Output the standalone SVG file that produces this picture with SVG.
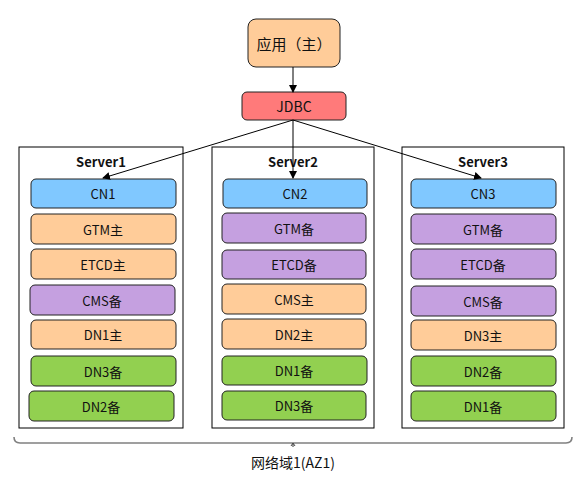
<svg xmlns="http://www.w3.org/2000/svg" width="585" height="484" viewBox="0 0 585 484">
<defs>
<marker id="ah" markerWidth="8" markerHeight="8" refX="7" refY="4" orient="auto" markerUnits="userSpaceOnUse">
<path d="M0,0 L8,4 L0,8 Z" fill="#000"/>
</marker>
<style>
text{font-family:"Noto Sans CJK SC","Liberation Sans",sans-serif;font-size:13px;fill:#111;text-anchor:middle;dominant-baseline:central}
.srv{fill:#fff;stroke:#000;stroke-width:1}
.t{font-weight:bold;font-size:13px}
.n{stroke:#222;stroke-width:1}
.b{fill:#80C8FF}
.o{fill:#FFCC99}
.p{fill:#C5A0E0}
.g{fill:#92D050}
.r{fill:#FF7A7A}
.c{stroke:#000;stroke-width:1;fill:none}
</style>
</defs>
<g id="app"><rect x="248" y="19" width="92" height="48" rx="8" class="n o"/><text x="294" y="43" style="font-size:15px">应用（主）</text></g>
<g id="jdbc"><rect x="242" y="92" width="104" height="28" rx="5" class="n r"/><text x="294" y="106" style="font-size:14px">JDBC</text></g>

<g id="server1"><rect x="19" y="147" width="164" height="281" class="srv"/><text x="101" y="161" class="t">Server1</text></g>
<g id="server2"><rect x="212" y="147" width="162" height="281" class="srv"/><text x="293" y="161" class="t">Server2</text></g>
<g id="server3"><rect x="402" y="147" width="162" height="281" class="srv"/><text x="483" y="161" class="t">Server3</text></g>

<g id="cn1"><rect x="31" y="179" width="145" height="29" rx="5" class="n b"/><text x="103" y="193.5">CN1</text></g>
<g id="gtm1"><rect x="31" y="214" width="145" height="30" rx="5" class="n o"/><text x="103" y="229">GTM主</text></g>
<g id="etcd1"><rect x="31" y="249" width="145" height="30" rx="5" class="n o"/><text x="103" y="264">ETCD主</text></g>
<g id="cms1"><rect x="30" y="285" width="145" height="30" rx="5" class="n p"/><text x="102" y="300">CMS备</text></g>
<g id="dn1a"><rect x="31" y="320" width="145" height="29" rx="5" class="n o"/><text x="103" y="334.5">DN1主</text></g>
<g id="dn3b1"><rect x="31" y="356" width="145" height="30" rx="5" class="n g"/><text x="103" y="371">DN3备</text></g>
<g id="dn2b1"><rect x="29" y="391" width="145" height="30" rx="5" class="n g"/><text x="101" y="406">DN2备</text></g>

<g id="cn2"><rect x="223" y="179" width="144" height="29" rx="5" class="n b"/><text x="295" y="193.5">CN2</text></g>
<g id="gtm2"><rect x="222" y="213" width="144" height="30" rx="5" class="n p"/><text x="294" y="228">GTM备</text></g>
<g id="etcd2"><rect x="222" y="250" width="144" height="29" rx="5" class="n p"/><text x="294" y="264.5">ETCD备</text></g>
<g id="cms2"><rect x="222" y="284" width="144" height="30" rx="5" class="n o"/><text x="294" y="299">CMS主</text></g>
<g id="dn2a"><rect x="222" y="319" width="144" height="30" rx="5" class="n o"/><text x="294" y="334">DN2主</text></g>
<g id="dn1b2"><rect x="222" y="356" width="145" height="29" rx="5" class="n g"/><text x="294" y="370.5">DN1备</text></g>
<g id="dn3b2"><rect x="222" y="391" width="144" height="29" rx="5" class="n g"/><text x="294" y="405.5">DN3备</text></g>

<g id="cn3"><rect x="411" y="179" width="145" height="29" rx="5" class="n b"/><text x="483" y="193.5">CN3</text></g>
<g id="gtm3"><rect x="411" y="214" width="145" height="30" rx="5" class="n p"/><text x="483" y="229">GTM备</text></g>
<g id="etcd3"><rect x="411" y="249" width="145" height="30" rx="5" class="n p"/><text x="483" y="264">ETCD备</text></g>
<g id="cms3"><rect x="411" y="286" width="145" height="30" rx="5" class="n p"/><text x="483" y="301">CMS备</text></g>
<g id="dn3a"><rect x="411" y="320" width="145" height="30" rx="5" class="n o"/><text x="483" y="335">DN3主</text></g>
<g id="dn2b3"><rect x="411" y="356" width="145" height="30" rx="5" class="n g"/><text x="483" y="371">DN2备</text></g>
<g id="dn1b3"><rect x="411" y="391" width="145" height="30" rx="5" class="n g"/><text x="483" y="406">DN1备</text></g>

<g id="connectors">
<line x1="293" y1="67" x2="293" y2="92" class="c" marker-end="url(#ah)"/>
<line x1="293" y1="120" x2="103" y2="178" class="c" marker-end="url(#ah)"/>
<line x1="293" y1="120" x2="293" y2="178" class="c" marker-end="url(#ah)"/>
<line x1="293" y1="120" x2="481" y2="178" class="c" marker-end="url(#ah)"/>
</g>

<g id="brace">
<path d="M14,437 Q14,443 20,443 L566,443 Q572,443 572,437 M293,443 L293,447" fill="none" stroke="#808080" stroke-width="1.6"/>
<path d="M291,446 L293,443 L295,446" fill="none" stroke="#444" stroke-width="1"/>
<text x="293" y="462" style="font-size:14px">网络域1(AZ1)</text>
</g>
</svg>
